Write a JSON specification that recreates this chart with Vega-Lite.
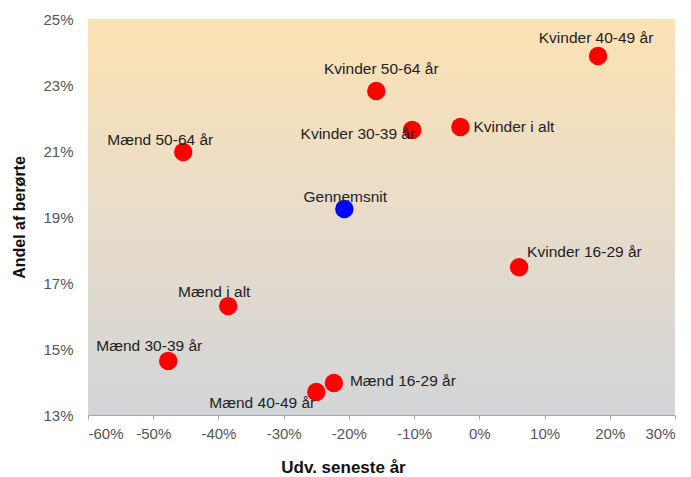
{
  "$schema": "https://vega.github.io/schema/vega-lite/v6.json",
  "width": 587,
  "height": 396,
  "autosize": {"type": "none"},
  "padding": {"left": 88, "top": 19, "right": 16, "bottom": 62},
  "background": "white",
  "config": {
    "font": "Liberation Sans",
    "text": {"font": "Liberation Sans", "fontSize": 15.5, "color": "#222222", "baseline": "middle"},
    "view": {
      "stroke": null,
      "fill": {
        "gradient": "linear",
        "x1": 0, "y1": 0, "x2": 0, "y2": 1,
        "stops": [
          {"offset": 0, "color": "#FCE2B3"},
          {"offset": 0.5, "color": "#E8DCCA"},
          {"offset": 1, "color": "#D2D5D8"}
        ]
      }
    }
  },
  "data": {
    "values": [
      {"label": "Kvinder 40-49 år", "udv": 0.182, "andel": 0.2388, "type": "gruppe"},
      {"label": "Kvinder 50-64 år", "udv": -0.158, "andel": 0.2282, "type": "gruppe"},
      {"label": "Kvinder 30-39 år", "udv": -0.103, "andel": 0.2164, "type": "gruppe"},
      {"label": "Kvinder i alt", "udv": -0.029, "andel": 0.2173, "type": "gruppe"},
      {"label": "Mænd 50-64 år", "udv": -0.454, "andel": 0.2097, "type": "gruppe"},
      {"label": "Gennemsnit", "udv": -0.207, "andel": 0.1924, "type": "gennemsnit"},
      {"label": "Kvinder 16-29 år", "udv": 0.061, "andel": 0.1748, "type": "gruppe"},
      {"label": "Mænd i alt", "udv": -0.385, "andel": 0.163, "type": "gruppe"},
      {"label": "Mænd 30-39 år", "udv": -0.477, "andel": 0.1464, "type": "gruppe"},
      {"label": "Mænd 16-29 år", "udv": -0.223, "andel": 0.1397, "type": "gruppe"},
      {"label": "Mænd 40-49 år", "udv": -0.25, "andel": 0.137, "type": "gruppe"}
    ]
  },
  "encoding": {
    "x": {
      "field": "udv", "type": "quantitative",
      "scale": {"domain": [-0.6, 0.3], "nice": false, "zero": false},
      "axis": {
        "title": "Udv. seneste år", "format": ".0%", "values": [-0.6,-0.5,-0.4,-0.3,-0.2,-0.1,0,0.1,0.2,0.3],
        "labelExpr": "replace(datum.label, '\u2212', '-')",
        "grid": false, "domainColor": "#A6A6A6", "tickColor": "#A6A6A6", "tickSize": 4,
        "labelFont": "Liberation Sans", "labelFontSize": 15, "labelColor": "#555555", "labelPadding": 7,
        "titleFont": "Liberation Sans", "titleFontSize": 17, "titleFontWeight": "bold", "titleColor": "#111111",
        "titleX": 255, "titleY": 57, "titleBaseline": "alphabetic", "titleAlign": "center"
      }
    },
    "y": {
      "field": "andel", "type": "quantitative",
      "scale": {"domain": [0.13, 0.25], "nice": false, "zero": false},
      "axis": {
        "title": "Andel af berørte", "format": ".0%", "values": [0.13,0.15,0.17,0.19,0.21,0.23,0.25],
        "grid": false, "domain": false, "ticks": false,
        "labelFont": "Liberation Sans", "labelFontSize": 15, "labelColor": "#555555", "labelPadding": 15,
        "titleFont": "Liberation Sans", "titleFontSize": 16, "titleFontWeight": "bold", "titleColor": "#111111",
        "titleX": -64, "titleBaseline": "alphabetic", "titleAngle": -90
      }
    }
  },
  "layer": [
    {
      "mark": {"type": "circle", "size": 340, "opacity": 1},
      "encoding": {
        "color": {
          "field": "type", "type": "nominal",
          "scale": {"domain": ["gruppe", "gennemsnit"], "range": ["#FF0000", "#0000FF"]},
          "legend": null
        }
      }
    },
    {
      "transform": [{"filter": {"field": "label", "equal": "Kvinder 40-49 år"}}],
      "mark": {"type": "text", "align": "center", "dx": -2, "dy": -18},
      "encoding": {"text": {"field": "label"}}
    },
    {
      "transform": [{"filter": {"field": "label", "equal": "Kvinder 50-64 år"}}],
      "mark": {"type": "text", "align": "center", "dx": 5, "dy": -22},
      "encoding": {"text": {"field": "label"}}
    },
    {
      "transform": [{"filter": {"field": "label", "equal": "Gennemsnit"}}],
      "mark": {"type": "text", "align": "center", "dx": 1, "dy": -12},
      "encoding": {"text": {"field": "label"}}
    },
    {
      "transform": [{"filter": {"field": "label", "equal": "Mænd 50-64 år"}}],
      "mark": {"type": "text", "align": "center", "dx": -23, "dy": -12},
      "encoding": {"text": {"field": "label"}}
    },
    {
      "transform": [{"filter": {"field": "label", "equal": "Mænd i alt"}}],
      "mark": {"type": "text", "align": "center", "dx": -14, "dy": -14},
      "encoding": {"text": {"field": "label"}}
    },
    {
      "transform": [{"filter": {"field": "label", "equal": "Mænd 30-39 år"}}],
      "mark": {"type": "text", "align": "center", "dx": -19, "dy": -15},
      "encoding": {"text": {"field": "label"}}
    },
    {
      "transform": [{"filter": {"field": "label", "equal": "Kvinder i alt"}}],
      "mark": {"type": "text", "align": "left", "dx": 13, "dy": 0},
      "encoding": {"text": {"field": "label"}}
    },
    {
      "transform": [{"filter": {"field": "label", "equal": "Mænd 16-29 år"}}],
      "mark": {"type": "text", "align": "left", "dx": 16, "dy": -2},
      "encoding": {"text": {"field": "label"}}
    },
    {
      "transform": [{"filter": {"field": "label", "equal": "Kvinder 30-39 år"}}],
      "mark": {"type": "text", "align": "right", "dx": 3, "dy": 4},
      "encoding": {"text": {"field": "label"}}
    },
    {
      "transform": [{"filter": {"field": "label", "equal": "Kvinder 16-29 år"}}],
      "mark": {"type": "text", "align": "left", "dx": 8, "dy": -15},
      "encoding": {"text": {"field": "label"}}
    },
    {
      "transform": [{"filter": {"field": "label", "equal": "Mænd 40-49 år"}}],
      "mark": {"type": "text", "align": "right", "dx": -1, "dy": 11},
      "encoding": {"text": {"field": "label"}}
    }
  ]
}
